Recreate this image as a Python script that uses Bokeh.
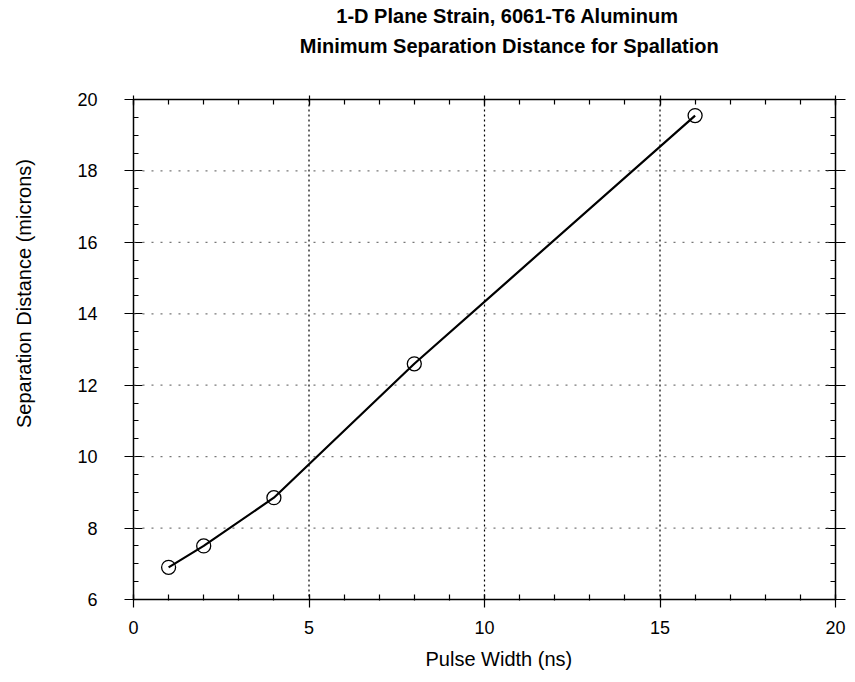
import math
from bokeh.plotting import figure
from bokeh.models import (Range1d, LinearAxis, SingleIntervalTicker, Title, Span,
                          ColumnDataSource)
from bokeh.layouts import row, column
from bokeh.core.properties import value
from bokeh.embed import file_html
from bokeh.resources import INLINE

# Data
pulse_width_ns = [1, 2, 4, 8, 16]
separation_um = [6.9, 7.5, 8.85, 12.6, 19.55]

title_lines = ["1-D Plane Strain, 6061-T6 Aluminum",
               "Minimum Separation Distance for Spallation"]
x_label = "Pulse Width (ns)"
y_label = "Separation Distance (microns)"
x_grid_values = [5, 10, 15]
y_grid_values = [8, 10, 12, 14, 16, 18]

FONT = "Liberation Sans"
W, H = 855, 682
LEFT_W = 46      # strip holding the y-axis title
TOP_H = 89       # strip holding the chart title

def blank_fig(w, h):
    f = figure(width=w, height=h, output_backend="svg", toolbar_location=None,
               x_range=Range1d(0, w), y_range=Range1d(0, h),
               x_axis_location=None, y_axis_location=None,
               min_border=0, outline_line_color=None)
    f.xgrid.visible = False
    f.ygrid.visible = False
    f.background_fill_color = "white"
    f.border_fill_color = "white"
    return f

# Title strip
tfig = blank_fig(W - LEFT_W, TOP_H)
tsrc = ColumnDataSource(dict(x=[477 - LEFT_W, 479 - LEFT_W], y=[TOP_H - 15, TOP_H - 45],
                             t=title_lines))
tfig.text(x="x", y="y", text="t", source=tsrc, text_font=value(FONT),
          text_font_size="20px", text_font_style="bold", text_color="black",
          text_align="center", text_baseline="middle")

# Y-axis title strip
yfig = blank_fig(LEFT_W, H)
ysrc = ColumnDataSource(dict(x=[23], y=[H - 293], t=[y_label]))
yfig.text(x="x", y="y", text="t", source=ysrc, angle=math.pi / 2,
          text_font=value(FONT), text_font_size="20px", text_color="black",
          text_align="center", text_baseline="middle")

# Main plot
p = figure(width=W - LEFT_W, height=H - TOP_H, output_backend="svg",
           toolbar_location=None,
           x_range=Range1d(0, 20), y_range=Range1d(6, 20),
           x_axis_location=None, y_axis_location=None,
           min_border_left=133 - LEFT_W, min_border_right=20,
           min_border_top=99 - TOP_H, min_border_bottom=83)
p.title.text = ""
p.xgrid.visible = False
p.ygrid.visible = False
p.outline_line_color = None
p.background_fill_color = "white"
p.border_fill_color = "white"

xt = SingleIntervalTicker(interval=5, num_minor_ticks=5)
yt = SingleIntervalTicker(interval=2, num_minor_ticks=4)

def style_axis(ax, labels=True):
    ax.axis_line_color = "black"
    ax.axis_line_width = 1.5
    ax.major_tick_line_color = "black"
    ax.minor_tick_line_color = "black"
    ax.major_tick_line_width = 1.2
    ax.minor_tick_line_width = 1.2
    ax.major_label_text_font = FONT
    ax.major_label_text_font_size = "18px"
    ax.major_label_text_color = "black"
    if not labels:
        ax.major_label_text_alpha = 0
        ax.major_label_text_font_size = "1px"

xb = LinearAxis(ticker=xt)
style_axis(xb)
xb.major_tick_in = 5
xb.major_tick_out = 8
xb.minor_tick_in = 5
xb.minor_tick_out = 1
xb.major_label_standoff = 13
p.add_layout(xb, "below")

yl = LinearAxis(ticker=yt)
style_axis(yl)
yl.major_tick_in = 9
yl.major_tick_out = 9
yl.minor_tick_in = 5
yl.minor_tick_out = 0
yl.major_label_standoff = 27
p.add_layout(yl, "left")

xtop = LinearAxis(ticker=xt)
style_axis(xtop, labels=False)
xtop.major_tick_in = 6
xtop.major_tick_out = 4
xtop.minor_tick_in = 5
xtop.minor_tick_out = 0
p.add_layout(xtop, "above")

yr = LinearAxis(ticker=yt)
style_axis(yr, labels=False)
yr.major_tick_in = 10
yr.major_tick_out = 10
yr.minor_tick_in = 5
yr.minor_tick_out = 0
p.add_layout(yr, "right")

# X-axis title
p.add_layout(Title(text=x_label, align="left", offset=292, standoff=18,
                   text_font=FONT, text_font_size="20px", text_font_style="normal",
                   text_color="black"), "below")

# Dotted grid lines
for gx in x_grid_values:
    p.add_layout(Span(location=gx, dimension="height", line_color="black",
                      line_dash="2 3", line_width=1.2))
for gy in y_grid_values:
    p.add_layout(Span(location=gy, dimension="width", line_color="#555555",
                      line_dash="2 7", line_width=1.2, line_alpha=0.8))

p.line(pulse_width_ns, separation_um, line_color="black", line_width=2.2)
p.scatter(pulse_width_ns, separation_um, marker="circle", size=14,
          fill_color="white", fill_alpha=0, line_color="black", line_width=1.3)

layout = row(yfig, column(tfig, p, spacing=0), spacing=0)
open("out.html", "w").write(file_html(layout, INLINE))
